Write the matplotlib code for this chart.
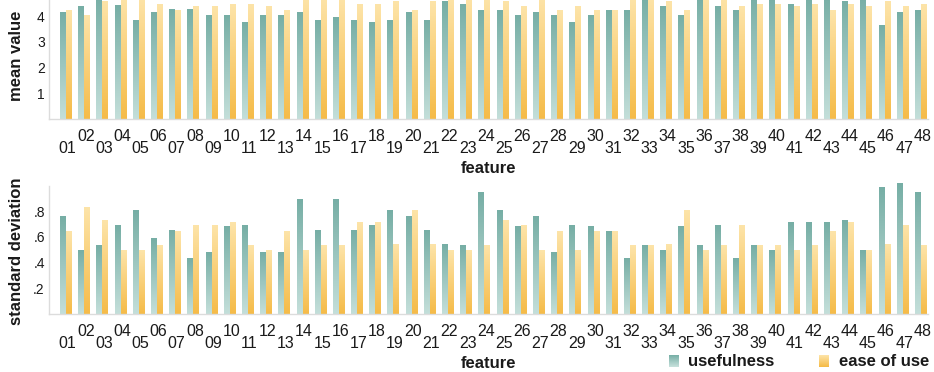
import numpy as np
import matplotlib
matplotlib.use("Agg")
import matplotlib.pyplot as plt
import matplotlib.transforms as mtransforms
from matplotlib.colors import to_rgb
from matplotlib.patches import Rectangle
from matplotlib.legend_handler import HandlerBase

features = [f"{i:02d}" for i in range(1, 49)]
series_names = ["usefulness", "ease of use"]

mean_usefulness = [4.16, 4.36, 4.75, 4.40, 3.84, 4.16, 4.26, 4.26, 4.04, 4.04,
                   3.75, 4.04, 4.04, 4.16, 3.84, 3.96, 3.84, 3.75, 3.84, 4.16,
                   3.84, 4.56, 4.44, 4.23, 4.23, 4.04, 4.16, 4.04, 3.75, 4.04,
                   4.23, 4.23, 4.75, 4.36, 4.04, 4.75, 4.36, 4.23, 4.75, 4.75,
                   4.44, 4.75, 4.75, 4.56, 4.75, 3.65, 4.16, 4.23]
mean_ease = [4.23, 4.04, 4.56, 4.75, 4.75, 4.44, 4.23, 4.36, 4.36, 4.44,
             4.44, 4.36, 4.23, 4.75, 4.75, 4.75, 4.44, 4.44, 4.56, 4.23,
             4.56, 4.75, 4.75, 4.75, 4.56, 4.36, 4.75, 4.23, 4.36, 4.23,
             4.23, 4.75, 4.75, 4.56, 4.23, 4.75, 4.75, 4.36, 4.44, 4.44,
             4.36, 4.44, 4.23, 4.44, 4.36, 4.56, 4.36, 4.44]

sd_usefulness = [0.756, 0.496, 0.530, 0.691, 0.805, 0.584, 0.652, 0.431, 0.481, 0.683,
                 0.691, 0.481, 0.481, 0.894, 0.652, 0.894, 0.652, 0.691, 0.805, 0.756,
                 0.652, 0.538, 0.530, 0.943, 0.805, 0.683, 0.756, 0.481, 0.691, 0.683,
                 0.639, 0.431, 0.530, 0.496, 0.683, 0.530, 0.691, 0.431, 0.530, 0.496,
                 0.714, 0.714, 0.714, 0.725, 0.496, 0.984, 1.012, 0.943]
sd_ease = [0.639, 0.831, 0.725, 0.496, 0.496, 0.530, 0.639, 0.691, 0.691, 0.714,
           0.530, 0.496, 0.639, 0.496, 0.530, 0.530, 0.714, 0.714, 0.538, 0.805,
           0.538, 0.496, 0.496, 0.530, 0.725, 0.691, 0.496, 0.639, 0.496, 0.639,
           0.639, 0.530, 0.530, 0.538, 0.805, 0.496, 0.530, 0.691, 0.530, 0.530,
           0.496, 0.530, 0.639, 0.714, 0.496, 0.538, 0.691, 0.530]

mean_ticks = [1, 2, 3, 4]
mean_tick_labels = ["1", "2", "3", "4"]
sd_ticks = [0.2, 0.4, 0.6, 0.8]
sd_tick_labels = [".2", ".4", ".6", ".8"]

TEAL_TOP, TEAL_BOT = np.array(to_rgb("#76aea5")), np.array(to_rgb("#c4dfda"))
ORNG_TOP, ORNG_BOT = np.array(to_rgb("#fde4a9")), np.array(to_rgb("#f5bb48"))

plt.rcParams["font.family"] = ["Liberation Sans", "DejaVu Sans"]
TXT = "#1a1a1a"
SPINE = "#dcdcdc"

fig = plt.figure(figsize=(9.34, 3.72), dpi=100)
W, H = 934.0, 372.0
left, right = 49 / W, 928 / W
ax_h = 128.5 / H
ax_top = fig.add_axes([left, (H - 119) / H, right - left, ax_h])
ax_bot = fig.add_axes([left, (H - 314) / H, right - left, ax_h])

x = np.arange(1, len(features) + 1)
bw = 0.33


def grad_img(top, bot):
    t = np.linspace(0, 1, 256)[:, None]
    img = bot[None, :] * (1 - t) + top[None, :] * t
    return img.reshape(256, 1, 3)


def grad_bars(ax, xs, vals, top, bot, noclip=False):
    img = grad_img(top, bot)
    bars = ax.bar(xs, vals, bw, color="none", edgecolor="none", linewidth=0, zorder=3)
    for b in bars:
        x0, w, h = b.get_x(), b.get_width(), b.get_height()
        im = ax.imshow(img, extent=[x0 + 0.01, x0 + w - 0.01, 0, h], origin="lower",
                       aspect="auto", interpolation="bilinear", zorder=2)
        if noclip:
            im.set_clip_on(False)


def style(ax, ylim, ticks, labels):
    ax.set_xlim(0.07, 48.4)
    ax.set_ylim(*ylim)
    for s in ["top", "right"]:
        ax.spines[s].set_visible(False)
    for s in ["left", "bottom"]:
        ax.spines[s].set_color(SPINE)
        ax.spines[s].set_linewidth(1.0)
    ax.set_yticks(ticks, labels)
    ax.tick_params(axis="y", length=0, pad=3, labelsize=10, labelcolor=TXT)
    ax.set_xticks(x, features)
    ax.tick_params(axis="x", length=0, labelsize=11.5, labelcolor=TXT)
    off = mtransforms.ScaledTranslation(1.6 / 100, 0, fig.dpi_scale_trans)
    for i, t in enumerate(ax.xaxis.get_major_ticks()):
        t.set_pad(15.7 if i % 2 == 0 else 7.0)
        t.label1.set_transform(t.label1.get_transform() + off)
    ax.set_xlabel("feature", fontsize=12, fontweight="bold", color=TXT, labelpad=4)


grad_bars(ax_top, x - bw / 2, mean_usefulness, TEAL_TOP, TEAL_BOT)
grad_bars(ax_top, x + bw / 2, mean_ease, ORNG_TOP, ORNG_BOT)
grad_bars(ax_bot, x - bw / 2, sd_usefulness, TEAL_TOP, TEAL_BOT, noclip=True)
grad_bars(ax_bot, x + bw / 2, sd_ease, ORNG_TOP, ORNG_BOT, noclip=True)

style(ax_top, (0, 5), mean_ticks, mean_tick_labels)
style(ax_bot, (0, 1.0), sd_ticks, sd_tick_labels)

fig.text(17 / W, (H - 56) / H, "mean value", rotation=90, ha="center", va="center",
         fontsize=12, fontweight="bold", color=TXT)
fig.text(17 / W, (H - 251) / H, "standard deviation", rotation=90, ha="center", va="center",
         fontsize=12, fontweight="bold", color=TXT)


class GradHandler(HandlerBase):
    def __init__(self, top, bot, n=24):
        super().__init__()
        self.top, self.bot, self.n = top, bot, n

    def create_artists(self, legend, orig_handle, xdescent, ydescent, width, height, fontsize, trans):
        arts = []
        for k in range(self.n):
            f = k / (self.n - 1)
            c = self.bot * (1 - f) + self.top * f
            arts.append(Rectangle((-xdescent, -ydescent + height * k / self.n), width,
                                  height / self.n + 0.01, facecolor=c, edgecolor="none",
                                  transform=trans))
        return arts


h1 = Rectangle((0, 0), 1, 1)
h2 = Rectangle((0, 0), 1, 1)
leg = fig.legend([h1, h2], series_names, loc="center left", bbox_to_anchor=(669 / W, (H - 362) / H),
                 ncol=2, frameon=False, borderpad=0, borderaxespad=0, handlelength=0.6,
                 handleheight=0.75, handletextpad=0.55, columnspacing=2.7,
                 prop={"size": 12, "weight": "bold"},
                 handler_map={h1: GradHandler(TEAL_TOP, TEAL_BOT), h2: GradHandler(ORNG_TOP, ORNG_BOT)})
for t in leg.get_texts():
    t.set_color(TXT)

fig.savefig("out.png", dpi=100)
